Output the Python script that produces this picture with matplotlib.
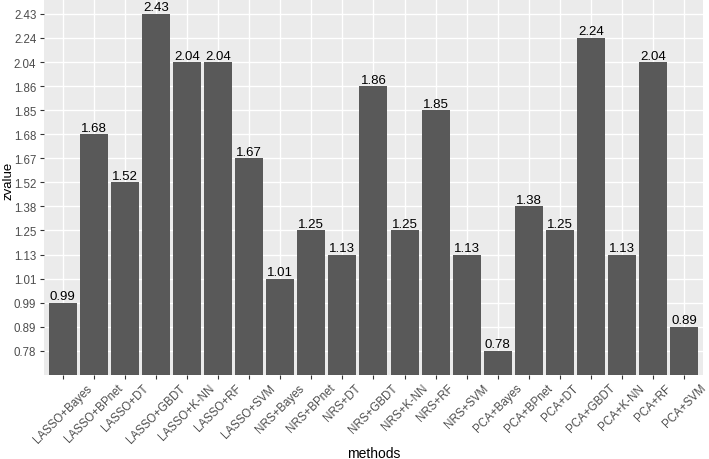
import numpy as np
import matplotlib.pyplot as plt

plt.rcParams['font.family'] = ['Liberation Sans', 'DejaVu Sans']

methods = ['LASSO+Bayes', 'LASSO+BPnet', 'LASSO+DT', 'LASSO+GBDT', 'LASSO+K-NN',
           'LASSO+RF', 'LASSO+SVM', 'NRS+Bayes', 'NRS+BPnet', 'NRS+DT', 'NRS+GBDT',
           'NRS+K-NN', 'NRS+RF', 'NRS+SVM', 'PCA+Bayes', 'PCA+BPnet', 'PCA+DT',
           'PCA+GBDT', 'PCA+K-NN', 'PCA+RF', 'PCA+SVM']
zvalue = ['0.99', '1.68', '1.52', '2.43', '2.04', '2.04', '1.67', '1.01', '1.25',
          '1.13', '1.86', '1.25', '1.85', '1.13', '0.78', '1.38', '1.25', '2.24',
          '1.13', '2.04', '0.89']

# zvalue is a factor, so the y axis is discrete (levels in sorted order)
levels = sorted(set(zvalue), key=float)
heights = [levels.index(z) + 1 for z in zvalue]
x = np.arange(1, len(methods) + 1)

fig = plt.figure(figsize=(7.09, 4.6), dpi=100)
ax = fig.add_axes([0.062, 0.183, 0.9295, 0.817])
ax.set_facecolor('#EBEBEB')
for s in ax.spines.values():
    s.set_visible(False)

ax.bar(x, heights, width=0.9, color='#595959', zorder=2)
for xi, h, lab in zip(x, heights, zvalue):
    ax.text(xi, h + 0.02, lab, ha='center', va='bottom', fontsize=9.5,
            color='black', zorder=3)

ax.set_xlim(0.4, len(methods) + 0.6)
ax.set_ylim(0, len(levels) + 0.62)
ax.set_xticks(x)
ax.set_xticklabels(methods, rotation=45, ha='center', va='top')
ax.set_yticks(np.arange(1, len(levels) + 1))
ax.set_yticklabels(levels)
ax.grid(True, color='white', linewidth=1.0, zorder=0)
ax.set_axisbelow(True)
ax.tick_params(axis='both', colors='#333333', labelcolor='#4D4D4D',
               labelsize=8.3, length=3, width=0.8)
ax.tick_params(axis='x', pad=2)
ax.tick_params(axis='y', pad=2.5)

ax.set_xlabel('methods', fontsize=10, color='black')
ax.xaxis.set_label_coords(0.5, -0.19)
ax.set_ylabel('zvalue', fontsize=9.5, color='black')
ax.yaxis.set_label_coords(-0.0445, 0.52)

fig.savefig('out.png', dpi=100)
